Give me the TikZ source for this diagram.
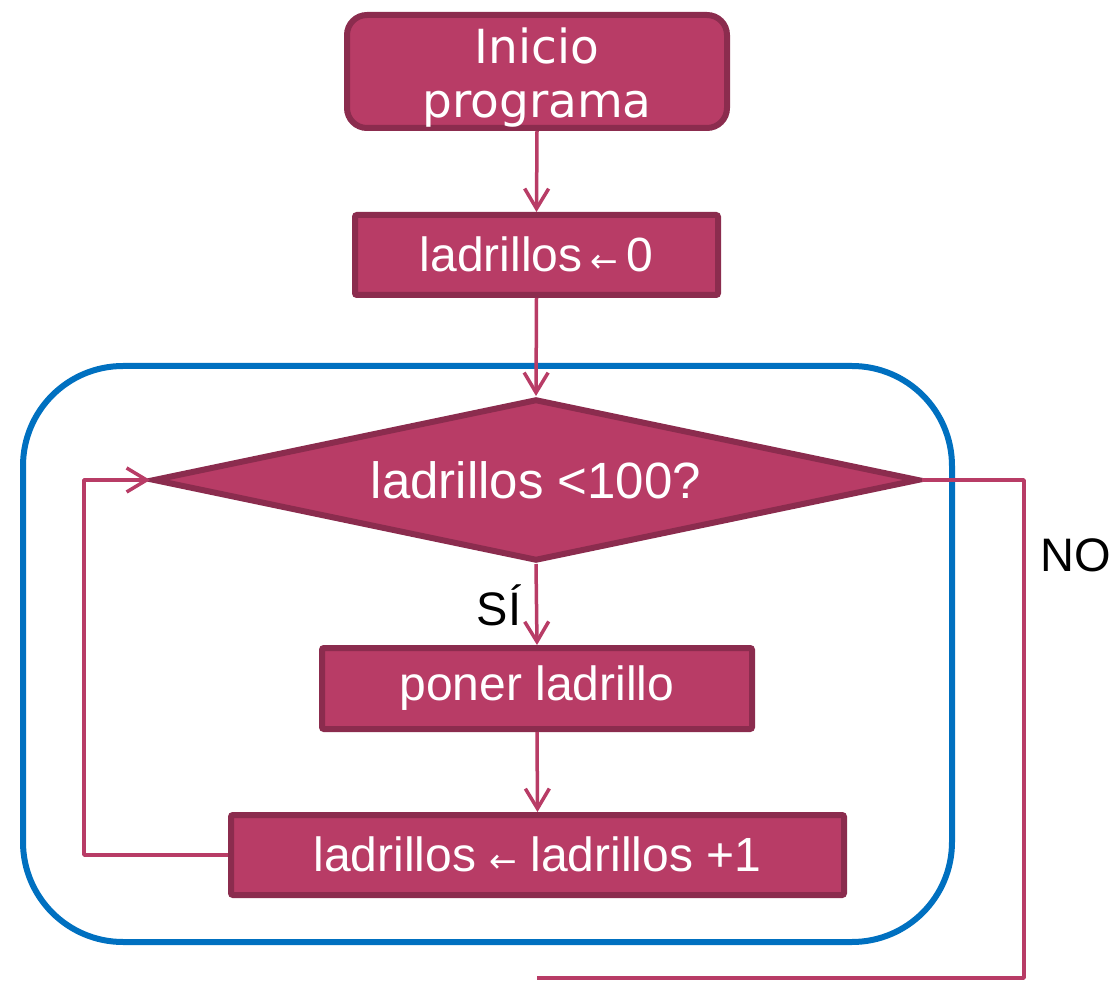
\documentclass[tikz,border=0pt]{standalone}
\usepackage{fontspec}
\setmainfont{Liberation Sans}
\newfontfamily\dejavu{DejaVu Sans}
\usetikzlibrary{shapes.geometric,arrows.meta}
\definecolor{fillc}{RGB}{184,60,102}
\definecolor{edgec}{RGB}{139,44,78}
\definecolor{blueframe}{RGB}{0,112,192}
\newcommand{\smarrow}{{\dejavu\fontsize{33}{33}\selectfont\raisebox{-1pt}{←}}}
\begin{document}
\begin{tikzpicture}[x=1pt,y=-1pt,
  box/.style={draw=edgec,fill=fillc,line width=6pt,text=white,rounded corners=2pt,
    inner sep=0pt,font=\fontsize{48}{54}\selectfont},
  conn/.style={draw=fillc,line width=3.5pt,line join=round},
  arr/.style={conn,-{Straight Barb[length=20pt,width=24pt,line width=3.5pt]}},
  lbl/.style={font=\fontsize{47}{52}\selectfont,text=black,inner sep=0pt}]
\useasboundingbox (0,0) rectangle (1112,981);
% loop frame
\draw[blueframe,line width=6pt,rounded corners=100pt] (23,366) rectangle (952,942);
% nodes
\node[box,rounded corners=20pt,minimum width=380pt,minimum height=113pt,
  text height=0pt,text depth=0pt,font=\dejavu\fontsize{47}{54}\selectfont] (start) at (537,71.5)
  {\raisebox{-14pt}{\begin{tabular}{@{}c@{}}Inicio\\programa\end{tabular}}};
\node[box,minimum width=363pt,minimum height=80pt] (init) at (536.5,255) {ladrillos\,\smarrow\,0};
\node[box,diamond,aspect=4.6,rounded corners=0pt,minimum width=766pt,minimum height=162pt,
  font=\fontsize{51}{56}\selectfont] (cond) at (536,480) {ladrillos <100?};
\node[box,minimum width=430pt,minimum height=81pt] (put) at (537,688.5) {poner ladrillo};
\node[box,minimum width=613pt,minimum height=80pt] (inc) at (537.5,855) {ladrillos \smarrow\ ladrillos +1};
% connectors
\draw[arr] (start.south) -- (init.north);
\draw[arr] (init.south) -- (cond.north);
\draw[arr] (cond.south) -- (put.north);
\draw[arr] (put.south) -- (inc.north);
\coordinate (lp) at (84,855);
\draw[arr] (inc.west) -- (lp) |- (cond.west);
\coordinate (nr) at (1024,480);
\coordinate (nb) at (1024,978);
\coordinate (ne) at (537,978);
\draw[conn] (cond.east) -- (nr) -- (nb) -- (ne);
% labels
\node[lbl] (si) at (499,605) {SÍ};
\node[lbl] (no) at (1076,555) {NO};
\end{tikzpicture}
\end{document}
